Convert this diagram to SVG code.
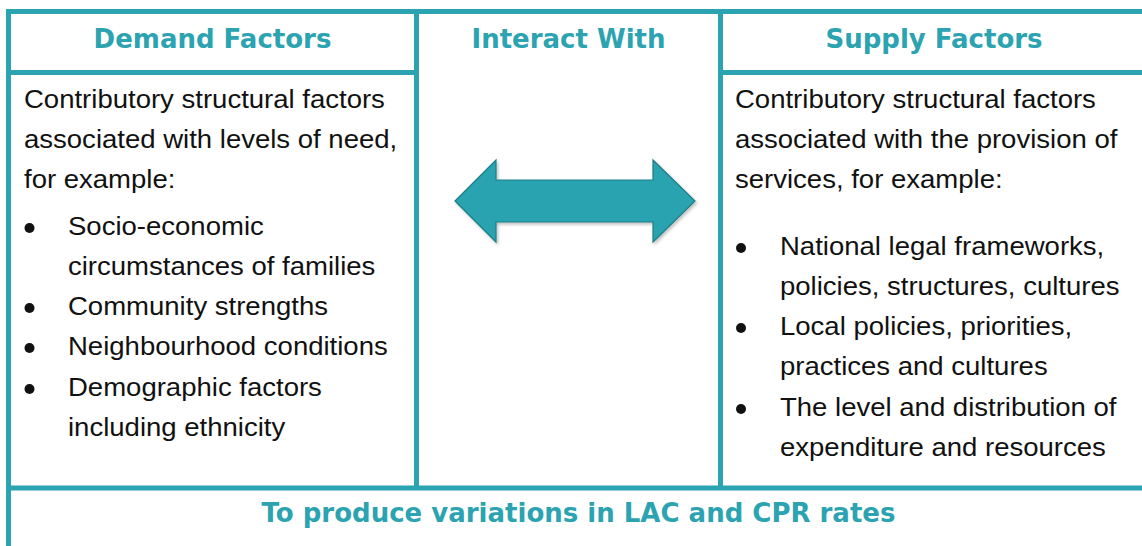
<svg xmlns="http://www.w3.org/2000/svg" width="1142" height="546" viewBox="0 0 1142 546">
<style>
.bd{stroke:#2ba3b0;stroke-width:5;fill:none}
.hd{font-family:"DejaVu Sans",sans-serif;font-weight:bold;font-size:26px;fill:#2ba3b0;text-anchor:middle}
.tx{font-family:"Liberation Sans",Arial,sans-serif;font-size:25.5px;fill:#111}
.bl{fill:#111}
</style>
<defs>
<filter id="sh" x="-10%" y="-10%" width="130%" height="140%">
<feDropShadow dx="1.5" dy="2" stdDeviation="1.5" flood-color="#000" flood-opacity="0.25"/>
</filter>
</defs>
<rect x="0" y="0" width="1142" height="546" fill="#fff"/>
<g id="grid">
<line class="bd" x1="6" y1="11.5" x2="1142" y2="11.5"/>
<line class="bd" x1="8.5" y1="9" x2="8.5" y2="546"/>
<line class="bd" x1="8.5" y1="72.5" x2="416.5" y2="72.5"/>
<line class="bd" x1="720.5" y1="72.5" x2="1142" y2="72.5"/>
<line class="bd" x1="416.5" y1="9" x2="416.5" y2="488"/>
<line class="bd" x1="720.5" y1="9" x2="720.5" y2="488"/>
<line class="bd" x1="6" y1="488" x2="1142" y2="488"/>
</g>
<g id="demand">
<text class="hd" x="212.5" y="48">Demand Factors</text>
<text class="tx" transform="translate(24 108) scale(1.08 1)">Contributory structural factors</text>
<text class="tx" transform="translate(24 148) scale(1.08 1)">associated with levels of need,</text>
<text class="tx" transform="translate(24 188) scale(1.08 1)">for example:</text>
<circle class="bl" cx="29.5" cy="228" r="5"/>
<text class="tx" transform="translate(68 235) scale(1.08 1)">Socio-economic</text>
<text class="tx" transform="translate(68 275) scale(1.08 1)">circumstances of families</text>
<circle class="bl" cx="29.5" cy="308" r="5"/>
<text class="tx" transform="translate(68 315) scale(1.08 1)">Community strengths</text>
<circle class="bl" cx="29.5" cy="348" r="5"/>
<text class="tx" transform="translate(68 355) scale(1.08 1)">Neighbourhood conditions</text>
<circle class="bl" cx="29.5" cy="389" r="5"/>
<text class="tx" transform="translate(68 396) scale(1.08 1)">Demographic factors</text>
<text class="tx" transform="translate(68 436) scale(1.08 1)">including ethnicity</text>
</g>
<g id="interact">
<text class="hd" x="568.5" y="48">Interact With</text>
</g>
<g id="supply">
<text class="hd" x="934" y="48">Supply Factors</text>
<text class="tx" transform="translate(735 108) scale(1.08 1)">Contributory structural factors</text>
<text class="tx" transform="translate(735 148) scale(1.08 1)">associated with the provision of</text>
<text class="tx" transform="translate(735 188) scale(1.08 1)">services, for example:</text>
<circle class="bl" cx="741" cy="248" r="5"/>
<text class="tx" transform="translate(780 255) scale(1.08 1)">National legal frameworks,</text>
<text class="tx" transform="translate(780 295) scale(1.08 1)">policies, structures, cultures</text>
<circle class="bl" cx="741" cy="328" r="5"/>
<text class="tx" transform="translate(780 335) scale(1.08 1)">Local policies, priorities,</text>
<text class="tx" transform="translate(780 375) scale(1.08 1)">practices and cultures</text>
<circle class="bl" cx="741" cy="409" r="5"/>
<text class="tx" transform="translate(780 416) scale(1.08 1)">The level and distribution of</text>
<text class="tx" transform="translate(780 456) scale(1.08 1)">expenditure and resources</text>
</g>
<g id="result">
<text class="hd" x="578.5" y="522">To produce variations in LAC and CPR rates</text>
</g>
<g id="connectors">
<polygon points="455,201 496,160 496,180 653,180 653,160 695,201 653,242 653,222 496,222 496,242" fill="#2aa3b0" stroke="#1e7d87" stroke-width="1.2" filter="url(#sh)"/>
</g>
</svg>
